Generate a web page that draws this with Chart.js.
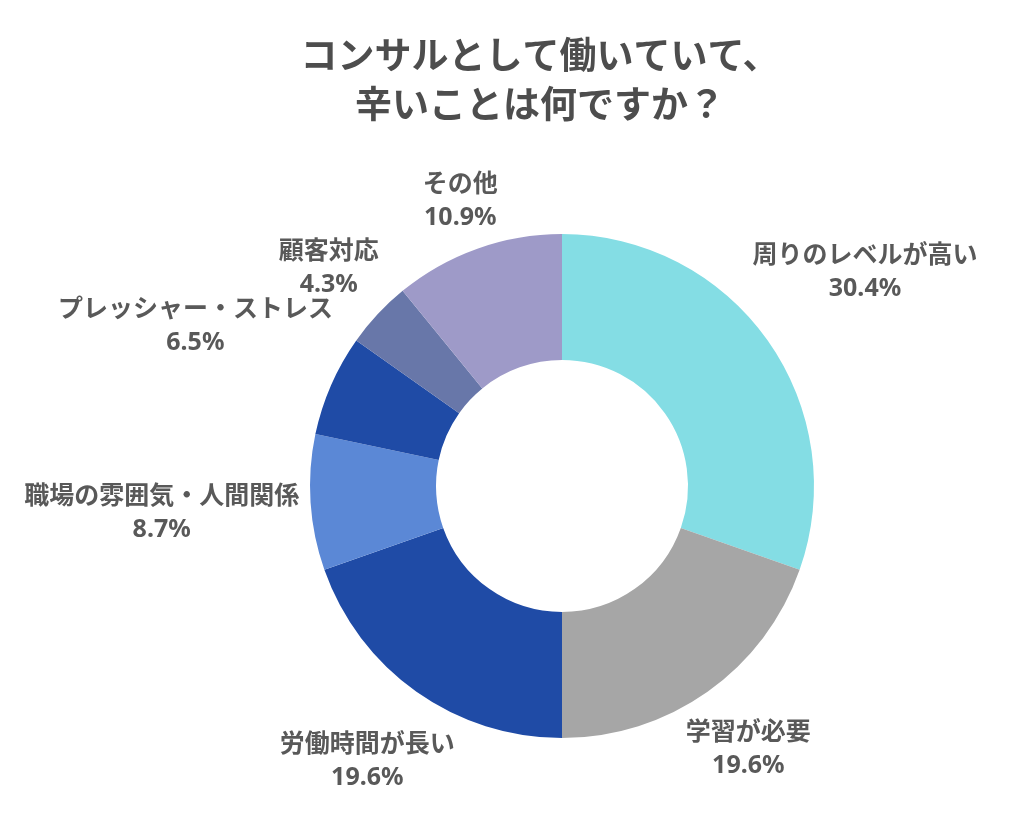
<!DOCTYPE html>
<html lang="ja">
<head>
<meta charset="utf-8">
<title>コンサルとして働いていて、辛いことは何ですか？</title>
<script src="https://cdn.jsdelivr.net/npm/chart.js@4"></script>
<style>
  html, body { margin: 0; padding: 0; background: #fff; }
  #wrap { width: 1024px; height: 818px; }
</style>
</head>
<body>
<div id="wrap"><canvas id="chart" width="1024" height="818"></canvas></div>
<script>
// データ
const categories = ['周りのレベルが高い', '学習が必要', '労働時間が長い', '職場の雰囲気・人間関係', 'プレッシャー・ストレス', '顧客対応', 'その他'];
const values = [30.4, 19.6, 19.6, 8.7, 6.5, 4.3, 10.9];
const colors = ['#84DDE4', '#A6A6A6', '#1F4BA6', '#5B88D6', '#1F4BA6', '#6877A9', '#9E9AC8'];
const titleLines = ['コンサルとして働いていて、', '辛いことは何ですか？'];

const FONT = "'Noto Sans', 'Noto Sans CJK JP', sans-serif";

// タイトル描画
const titlePlugin = {
    id: 'titleText',
    afterDraw(chart) {
        const ctx = chart.ctx;
        ctx.save();
        ctx.fillStyle = '#4D4D4D';
        ctx.font = 'bold 37px ' + FONT;
        ctx.textAlign = 'center';
        ctx.textBaseline = 'middle';
        titleLines.forEach((line, i) => ctx.fillText(line, 540, 58 + i * 49));
        ctx.restore();
    }
};

// 外側ラベル（カテゴリ名 + %）
const outerLabels = {
    id: 'outerLabels',
    afterDatasetsDraw(chart) {
        const ctx = chart.ctx;
        const meta = chart.getDatasetMeta(0);
        ctx.save();
        ctx.fillStyle = '#595959';
        ctx.font = 'bold 25px ' + FONT;
        ctx.textAlign = 'center';
        ctx.textBaseline = 'middle';
        meta.data.forEach((arc, i) => {
            const p = arc.getProps(['x', 'y', 'startAngle', 'endAngle', 'outerRadius'], true);
            const mid = (p.startAngle + p.endAngle) / 2;
            const name = categories[i];
            const pct = values[i].toFixed(1) + '%';
            const hw = Math.max(ctx.measureText(name).width, ctx.measureText(pct).width) / 2;
            const hh = 30;
            const c = Math.cos(mid), s = Math.sin(mid);
            const r = p.outerRadius + 10 + hw * Math.abs(c) + hh * Math.abs(s);
            const x = p.x + r * c;
            const y = p.y + r * s;
            ctx.fillText(name, x, y - 16);
            ctx.fillText(pct, x, y + 17);
        });
        ctx.restore();
    }
};

const ctx = document.getElementById('chart').getContext('2d');
new Chart(ctx, {
    type: 'doughnut',
    data: {
        labels: categories,
        datasets: [{
            data: values,
            backgroundColor: colors,
            borderWidth: 0
        }]
    },
    options: {
        responsive: false,
        animation: false,
        cutout: '50%',
        layout: { padding: { top: 234, bottom: 80, left: 310, right: 210 } },
        plugins: {
            legend: { display: false },
            tooltip: { enabled: false }
        }
    },
    plugins: [titlePlugin, outerLabels]
});
</script>
</body>
</html>
